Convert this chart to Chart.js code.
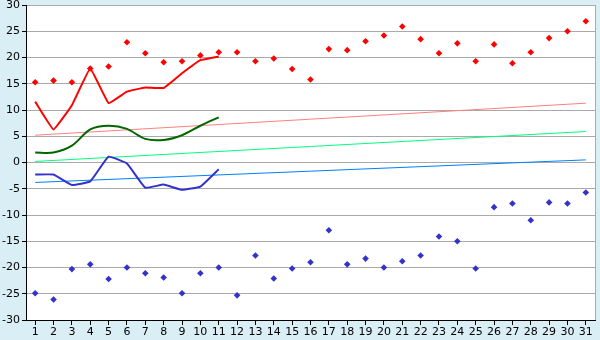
<!DOCTYPE html>
<html>
<head>
<meta charset="utf-8">
<script src="https://cdn.jsdelivr.net/npm/chart.js@4/dist/chart.umd.min.js"></script>
<style>
  html, body { margin: 0; padding: 0; background: #daeef5; }
  #wrap { width: 600px; height: 340px; }
</style>
</head>
<body>
<div id="wrap"><canvas id="tempChart"></canvas></div>
<script>
const days = ["1","2","3","4","5","6","7","8","9","10","11","12","13","14","15","16","17","18","19","20","21","22","23","24","25","26","27","28","29","30","31"];

// record highs / lows (diamonds)
const maxRecord = [15.3, 15.6, 15.3, 17.9, 18.3, 22.9, 20.8, 19.1, 19.3, 20.4, 21.0, 21.0, 19.3, 19.8, 17.8, 15.8,
  21.6, 21.4, 23.1, 24.2, 25.9, 23.5, 20.8, 22.7, 19.3, 22.5, 18.9, 21.0, 23.7, 25.0, 26.9];
const minRecord = [-24.9, -26.1, -20.3, -19.4, -22.2, -20.0, -21.1, -21.9, -24.9, -21.1, -20.0, -25.3, -17.7, -22.1, -20.2, -19.0,
  -12.9, -19.4, -18.3, -20.0, -18.8, -17.7, -14.1, -15.0, -20.2, -8.5, -7.8, -11.0, -7.6, -7.8, -5.7];

// current month, days 1-11
const maxTemp = [11.6, 6.3, 10.9, 17.9, 11.3, 13.5, 14.3, 14.2, 17.0, 19.5, 20.2];
const meanTemp = [1.9, 1.9, 3.2, 6.3, 7.0, 6.4, 4.5, 4.3, 5.2, 7.0, 8.6];
const minTemp = [-2.3, -2.3, -4.3, -3.6, 1.1, -0.2, -4.8, -4.2, -5.2, -4.6, -1.3];

// normals (start and end of month)
const normalMax = [5.2, 11.3];
const normalMean = [0.2, 5.9];
const normalMin = [-3.8, 0.5];

const yTicks = [-30, -25, -20, -15, -10, -5, 0, 5, 10, 15, 20, 25, 30];

function ends(pair) {
  const arr = days.map(() => null);
  arr[0] = pair[0];
  arr[days.length - 1] = pair[1];
  return arr;
}

const bgPlugin = {
  id: "bg",
  beforeDraw(chart) {
    const { ctx, chartArea: a } = chart;
    ctx.save();
    ctx.fillStyle = "#daeef5";
    ctx.fillRect(0, 0, chart.width, chart.height);
    ctx.fillStyle = "#ffffff";
    ctx.fillRect(a.left, a.top, a.right - a.left, a.bottom - a.top);
    ctx.strokeStyle = "#aaaaaa";
    ctx.lineWidth = 1;
    ctx.strokeRect(a.left + 0.5, a.top + 0.5, a.right - a.left, a.bottom - a.top);
    ctx.restore();
  },
};

const ctx = document.getElementById("tempChart").getContext("2d");

const myChart = new Chart(ctx, {
  type: "line",
  data: {
    labels: days,
    datasets: [
      {
        label: "max record",
        data: maxRecord,
        showLine: false,
        pointStyle: "rectRot",
        pointRadius: 3.3,
        backgroundColor: "#ff0000",
        borderColor: "#ff0000",
        borderWidth: 0,
        order: 1,
      },
      {
        label: "min record",
        data: minRecord,
        showLine: false,
        pointStyle: "rectRot",
        pointRadius: 3.3,
        backgroundColor: "#3333cc",
        borderColor: "#3333cc",
        borderWidth: 0,
        order: 1,
      },
      {
        label: "max",
        data: maxTemp,
        borderColor: "#ff0000",
        borderWidth: 2,
        pointRadius: 0,
        tension: 0.08,
        order: 2,
      },
      {
        label: "mean",
        data: meanTemp,
        borderColor: "#006600",
        borderWidth: 2,
        pointRadius: 0,
        tension: 0.3,
        order: 2,
      },
      {
        label: "min",
        data: minTemp,
        borderColor: "#3333cc",
        borderWidth: 2,
        pointRadius: 0,
        tension: 0.1,
        order: 2,
      },
      {
        label: "normal max",
        data: ends(normalMax),
        spanGaps: true,
        borderColor: "#ff8080",
        borderWidth: 1,
        pointRadius: 0,
        order: 3,
      },
      {
        label: "normal mean",
        data: ends(normalMean),
        spanGaps: true,
        borderColor: "#00ff80",
        borderWidth: 1,
        pointRadius: 0,
        order: 3,
      },
      {
        label: "normal min",
        data: ends(normalMin),
        spanGaps: true,
        borderColor: "#0080ff",
        borderWidth: 1,
        pointRadius: 0,
        order: 3,
      },
    ],
  },
  options: {
    responsive: true,
    maintainAspectRatio: false,
    animation: false,
    layout: {
      padding: { top: 0, right: 5, left: 0, bottom: 0 },
    },
    scales: {
      x: {
        offset: true,
        grid: {
          drawOnChartArea: false,
          drawTicks: true,
          tickLength: 5,
          tickColor: "#000000",
          offset: false,
        },
        border: { color: "#000000" },
        ticks: {
          color: "#000000",
          font: { family: "DejaVu Sans", size: 11 },
          padding: 1,
          maxRotation: 0,
          autoSkip: false,
        },
        afterFit(scale) {
          scale.height = 20;
        },
      },
      y: {
        min: -30,
        max: 30,
        afterBuildTicks(scale) {
          scale.ticks = yTicks.map((v) => ({ value: v }));
        },
        grid: {
          color: "#aaaaaa",
          tickColor: "#000000",
          tickLength: 4,
        },
        border: { color: "#000000" },
        ticks: {
          color: "#000000",
          font: { family: "DejaVu Sans", size: 11 },
          padding: 2,
        },
        afterFit(scale) {
          scale.width = 26;
          scale.paddingTop = 5;
          scale.paddingBottom = 0;
        },
      },
    },
    plugins: {
      legend: { display: false },
      tooltip: { enabled: false },
    },
  },
  plugins: [bgPlugin],
});
</script>
</body>
</html>
